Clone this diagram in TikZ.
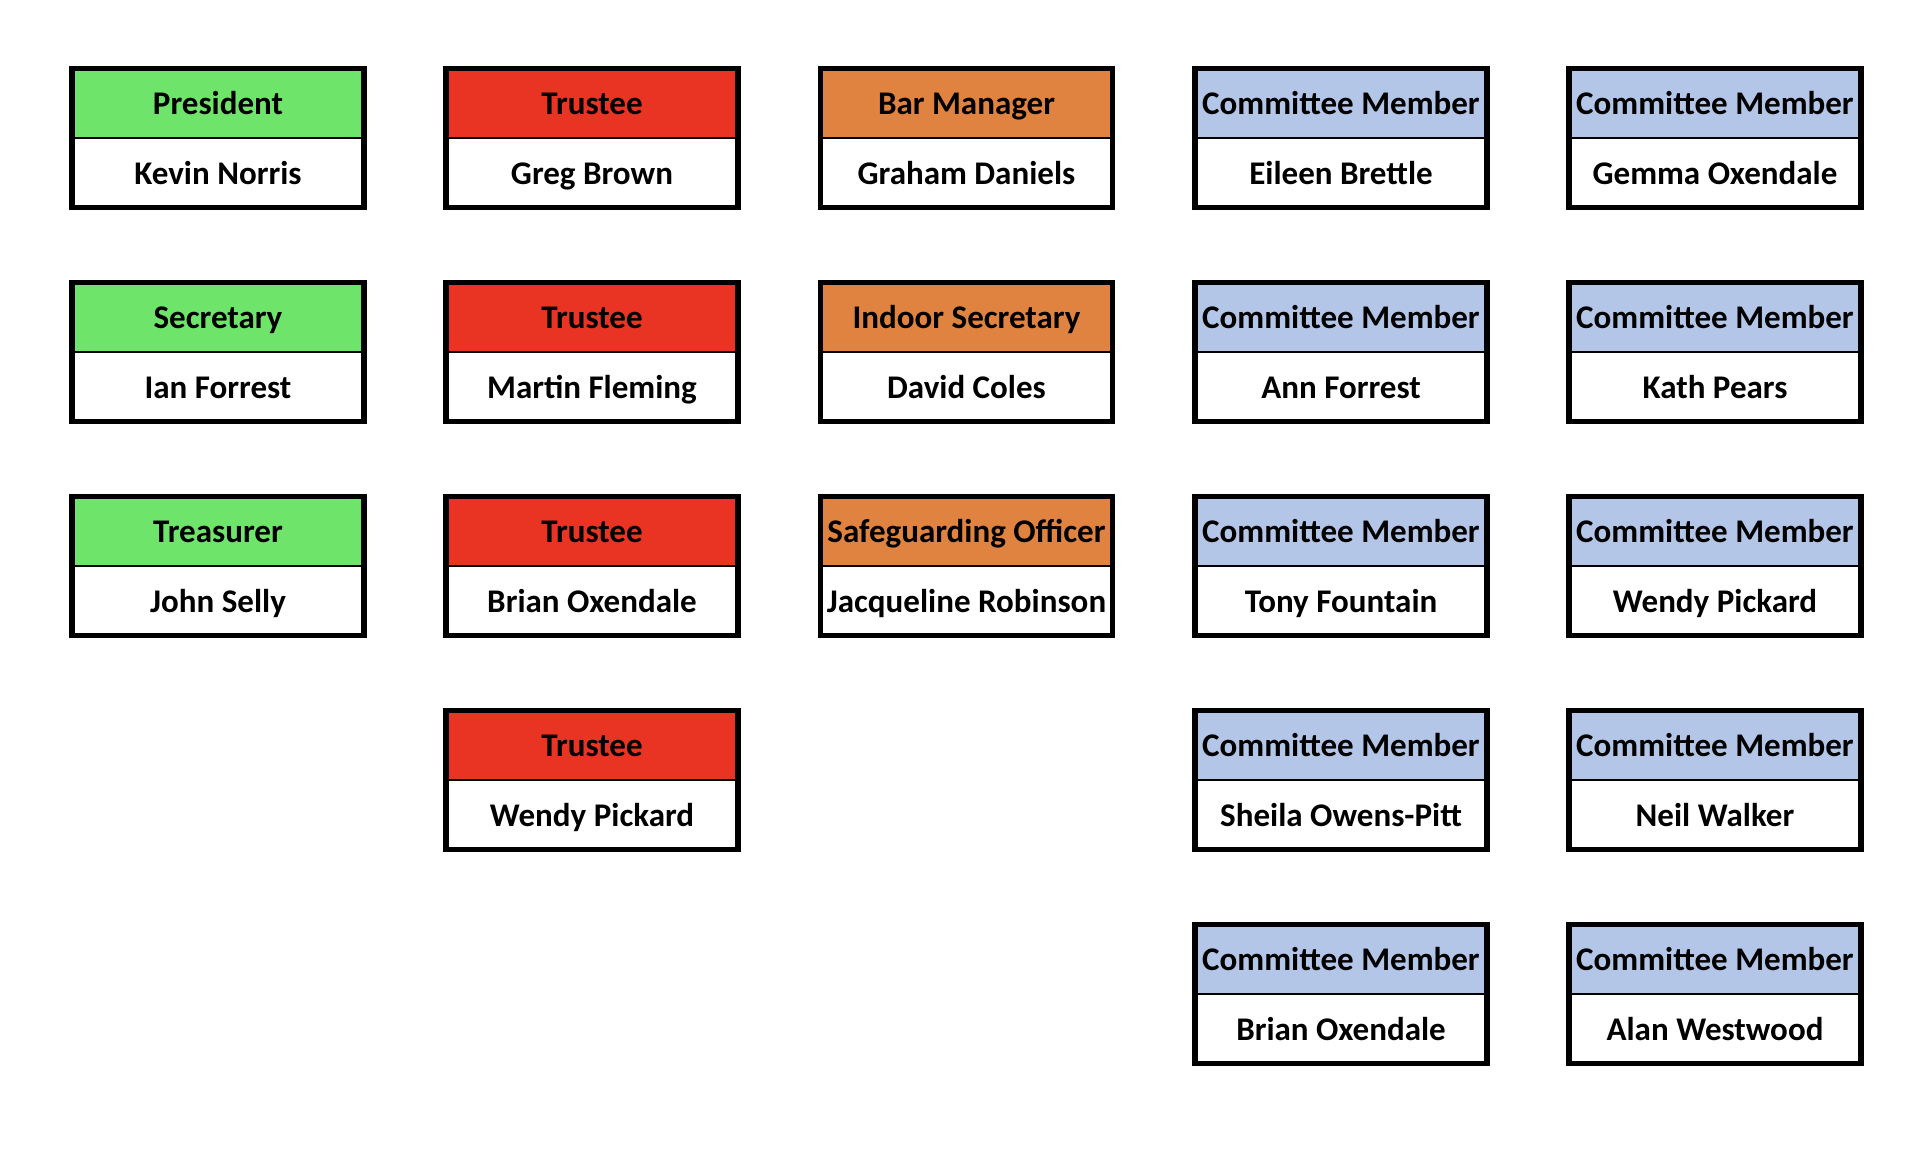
\documentclass[tikz,border=0pt]{standalone}
\usepackage{fontspec}
\setmainfont{Carlito}
\usetikzlibrary{positioning}
\definecolor{offgreen}{RGB}{110,228,106}
\definecolor{offred}{RGB}{233,52,36}
\definecolor{offorange}{RGB}{225,131,64}
\definecolor{cmblue}{RGB}{180,198,231}
\begin{document}
\begin{tikzpicture}[
    role/.style={draw, line width=0.6pt, minimum width=2.92cm, minimum height=0.695cm, inner sep=0pt, outer sep=0pt,
        text height=0.82em, text depth=0.15em, font=\bfseries\fontsize{9.4}{11}\selectfont},
    person/.style={role, fill=white},
    frame/.style={line width=1.5pt}
]
    \useasboundingbox[fill=white] (0,0) rectangle (19.14,-11.48);

    % officers
    \node[role, fill=offgreen] (pres) at (2.18,-1.03) {President};
    \node[person, below=0pt of pres] (presn) {Kevin Norris};
    \draw[frame] (pres.north west) rectangle (presn.south east);

    \node[role, fill=offgreen] (sec) at (2.18,-3.17) {Secretary};
    \node[person, below=0pt of sec] (secn) {Ian Forrest};
    \draw[frame] (sec.north west) rectangle (secn.south east);

    \node[role, fill=offgreen] (treas) at (2.18,-5.31) {Treasurer};
    \node[person, below=0pt of treas] (treasn) {John Selly};
    \draw[frame] (treas.north west) rectangle (treasn.south east);

    % trustees
    \node[role, fill=offred] (trust1) at (5.92,-1.03) {Trustee};
    \node[person, below=0pt of trust1] (trust1n) {Greg Brown};
    \draw[frame] (trust1.north west) rectangle (trust1n.south east);

    \node[role, fill=offred] (trust2) at (5.92,-3.17) {Trustee};
    \node[person, below=0pt of trust2] (trust2n) {Martin Fleming};
    \draw[frame] (trust2.north west) rectangle (trust2n.south east);

    \node[role, fill=offred] (trust3) at (5.92,-5.31) {Trustee};
    \node[person, below=0pt of trust3] (trust3n) {Brian Oxendale};
    \draw[frame] (trust3.north west) rectangle (trust3n.south east);

    \node[role, fill=offred] (trust4) at (5.92,-7.45) {Trustee};
    \node[person, below=0pt of trust4] (trust4n) {Wendy Pickard};
    \draw[frame] (trust4.north west) rectangle (trust4n.south east);

    % bar and indoor
    \node[role, fill=offorange] (bar) at (9.665,-1.03) {Bar Manager};
    \node[person, below=0pt of bar] (barn) {Graham Daniels};
    \draw[frame] (bar.north west) rectangle (barn.south east);

    \node[role, fill=offorange] (indoor) at (9.665,-3.17) {Indoor Secretary};
    \node[person, below=0pt of indoor] (indoorn) {David Coles};
    \draw[frame] (indoor.north west) rectangle (indoorn.south east);

    \node[role, fill=offorange] (safe) at (9.665,-5.31) {Safeguarding Officer};
    \node[person, below=0pt of safe] (safen) {Jacqueline Robinson};
    \draw[frame] (safe.north west) rectangle (safen.south east);

    % committee
    \node[role, fill=cmblue] (cm1) at (13.41,-1.03) {Committee Member};
    \node[person, below=0pt of cm1] (cm1n) {Eileen Brettle};
    \draw[frame] (cm1.north west) rectangle (cm1n.south east);

    \node[role, fill=cmblue] (cm2) at (13.41,-3.17) {Committee Member};
    \node[person, below=0pt of cm2] (cm2n) {Ann Forrest};
    \draw[frame] (cm2.north west) rectangle (cm2n.south east);

    \node[role, fill=cmblue] (cm3) at (13.41,-5.31) {Committee Member};
    \node[person, below=0pt of cm3] (cm3n) {Tony Fountain};
    \draw[frame] (cm3.north west) rectangle (cm3n.south east);

    \node[role, fill=cmblue] (cm4) at (13.41,-7.45) {Committee Member};
    \node[person, below=0pt of cm4] (cm4n) {Sheila Owens-Pitt};
    \draw[frame] (cm4.north west) rectangle (cm4n.south east);

    \node[role, fill=cmblue] (cm5) at (13.41,-9.59) {Committee Member};
    \node[person, below=0pt of cm5] (cm5n) {Brian Oxendale};
    \draw[frame] (cm5.north west) rectangle (cm5n.south east);

    \node[role, fill=cmblue] (cm6) at (17.15,-1.03) {Committee Member};
    \node[person, below=0pt of cm6] (cm6n) {Gemma Oxendale};
    \draw[frame] (cm6.north west) rectangle (cm6n.south east);

    \node[role, fill=cmblue] (cm7) at (17.15,-3.17) {Committee Member};
    \node[person, below=0pt of cm7] (cm7n) {Kath Pears};
    \draw[frame] (cm7.north west) rectangle (cm7n.south east);

    \node[role, fill=cmblue] (cm8) at (17.15,-5.31) {Committee Member};
    \node[person, below=0pt of cm8] (cm8n) {Wendy Pickard};
    \draw[frame] (cm8.north west) rectangle (cm8n.south east);

    \node[role, fill=cmblue] (cm9) at (17.15,-7.45) {Committee Member};
    \node[person, below=0pt of cm9] (cm9n) {Neil Walker};
    \draw[frame] (cm9.north west) rectangle (cm9n.south east);

    \node[role, fill=cmblue] (cm10) at (17.15,-9.59) {Committee Member};
    \node[person, below=0pt of cm10] (cm10n) {Alan Westwood};
    \draw[frame] (cm10.north west) rectangle (cm10n.south east);
\end{tikzpicture}
\end{document}
